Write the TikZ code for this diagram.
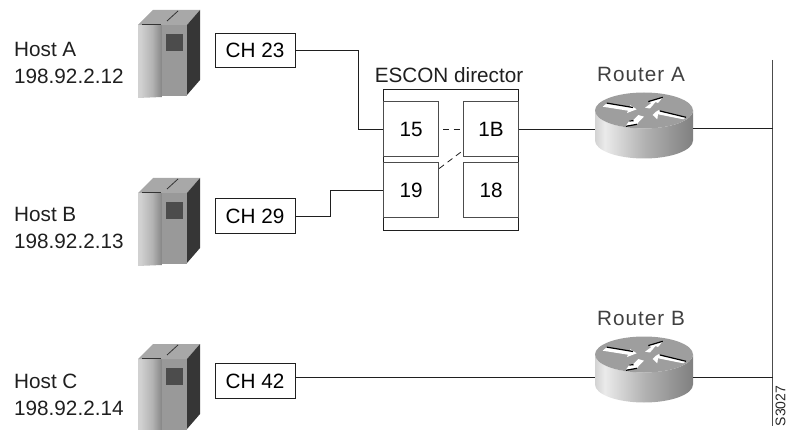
\documentclass[tikz,border=0pt]{standalone}
\usepackage{fontspec}
\setmainfont{Liberation Sans}
\newfontfamily\routerfont[LetterSpace=5]{Liberation Sans}
\pgfdeclarehorizontalshading{routerbody}{100bp}{color(0bp)=(black!50);color(10bp)=(black!45);color(30bp)=(black!8);color(50bp)=(black!30);color(75bp)=(black!50);color(92bp)=(black!68);color(100bp)=(black!60)}
\pgfdeclarehorizontalshading{hostbody}{100bp}{color(0bp)=(black!18);color(30bp)=(black!18);color(55bp)=(black!30);color(80bp)=(black!52);color(100bp)=(black!62)}
\definecolor{toptone}{gray}{0.62}
\definecolor{paneltone}{gray}{0.60}
\definecolor{hosttop}{gray}{0.66}
\definecolor{hostside}{gray}{0.21}
\definecolor{hostwin}{gray}{0.30}
\definecolor{linetone}{gray}{0.12}
\tikzset{
  labeltext/.style={font=\fontsize{20.7}{26.5}\selectfont,text=black!88,inner sep=0pt},
  routertext/.style={font=\routerfont\fontsize{20.7}{26.5}\selectfont,text=black!75,inner sep=0pt},
  hostlabel/.style={labeltext,align=left,anchor=west},
  chbox/.style={draw=linetone,line width=1pt,fill=white,minimum width=80pt,minimum height=34.5pt,inner sep=0pt,font=\fontsize{20.7}{25}\selectfont},
  portbox/.style={draw=black!70,line width=1pt,fill=white,minimum width=55.2pt,minimum height=55pt,inner sep=0pt,font=\fontsize{20.7}{25}\selectfont},
  shell/.style={draw=linetone,line width=1pt},
  link/.style={draw=linetone,line width=0.9pt},
  dashlink/.style={draw=linetone,line width=0.8pt,dash pattern=on 6pt off 4.5pt},
  hub/.style={inner sep=0pt,minimum width=98pt,minimum height=30pt},
  hosticon/.pic={
    \shade[shading=hostbody] (138,25) -- (162,25) -- (162,97) -- (138,98) -- cycle;
    \fill[paneltone] (162,25) rectangle (187,96);
    \fill[hosttop] (138,25) -- (153,10) -- (200,10) -- (187,25) -- cycle;
    \fill[hostside] (187,25) -- (200,10) -- (200,80) -- (187,95) -- cycle;
    \fill[hostwin] (166,34) rectangle (183,51);
    \draw[black!80,line width=0.8pt] (142,24) -- (161,24);
    \draw[black!80,line width=0.8pt] (167,21) -- (178,11);
  },
  routericon/.pic={
    \shade[shading=routerbody] (-49,0) arc[start angle=180,end angle=0,x radius=49,y radius=18] -- (49,30) arc[start angle=0,end angle=180,x radius=49,y radius=18] -- cycle;
    \fill[toptone] (0,0) ellipse[x radius=49,y radius=18];
    % arrow 1
    \fill[white] (-41.3,-3.8) -- (-37.3,-7.2) -- (-13,-3.2) -- (-14,-5.5) -- (-7.3,-1.2) -- (-17,2.5) -- (-16,0.2) -- cycle;
    \draw[black,line width=1.2pt] (-37.3,-7.4) -- (-11,-3);
    % arrow 2
    \fill[white] (1,-2.8) -- (7.5,-7.5) -- (4.5,-8.8) -- (18.7,-13) -- (14,-7.5) -- (11.5,-8.5) -- (6,-2) -- cycle;
    \draw[black,line width=1.2pt] (4.3,-8.9) -- (18.7,-13.2);
    % arrow 3
    \fill[white] (-18.3,15.5) -- (-14,9.5) -- (-11,10) -- (-5.7,4.5) -- (0,6.2) -- (-5,11) -- (-7,13.8) -- cycle;
    \draw[black,line width=1.2pt] (-14.7,10.5) -- (-10.5,10.2);
    \draw[black,line width=1.2pt] (-18,15.8) -- (-7,13.8);
    % arrow 4
    \fill[white] (8.7,4.5) -- (12,1.2) -- (15,-0.5) -- (15.5,0.8) -- (42,6.8) -- (39.3,8.8) -- (14,3.8) -- (13.3,8.8) -- cycle;
    \draw[black,line width=1.2pt] (16,0.5) -- (42,6.8);
  }
}
\begin{document}
\begin{tikzpicture}[x=1pt,y=-1pt]
\useasboundingbox (0,0) rectangle (787,430);

% Hosts
\pic at (0,0) {hosticon};
\pic at (0,168) {hosticon};
\begin{scope}
\clip (0,0) rectangle (787,430);
\pic at (0,334) {hosticon};
\end{scope}
\node[hostlabel] (hostA) at (14,63) {Host A\\198.92.2.12};
\node[hostlabel] (hostB) at (14,228) {Host B\\198.92.2.13};
\node[hostlabel] (hostC) at (14,395) {Host C\\198.92.2.14};

% Channel boxes
\node[chbox] (ch23) at (255,50.5) {CH 23};
\node[chbox] (ch29) at (255,216) {CH 29};
\node[chbox] (ch42) at (255,381) {CH 42};

% ESCON director
\node[labeltext] (esconlabel) at (449,75) {ESCON director};
\node[shell,minimum width=135.2pt,minimum height=141pt,inner sep=0pt] (director) at (451.1,160.5) {};
\node[portbox] (p15) at (411.1,129.5) {15};
\node[portbox] (p1B) at (491.1,129.5) {1B};
\node[portbox] (p19) at (411.1,190.5) {19};
\node[portbox] (p18) at (491.1,190.5) {18};

% Routers
\pic at (644,110.5) {routericon};
\pic at (644,354.5) {routericon};
\node[hub] (routerA) at (644,128.5) {};
\node[hub] (routerB) at (644,377.5) {};
\node[routertext] (routerAlabel) at (641,74) {Router A};
\node[routertext] (routerBlabel) at (641,318) {Router B};

% Bus
\coordinate (busTop) at (772.5,60);
\coordinate (busBottom) at (772.5,426);
\coordinate (busA) at (772.5,128.5);
\coordinate (busB) at (772.5,377.5);
\draw[draw=black!70,line width=1.1pt] (busTop) -- (busBottom);

% Connectors
\draw[link] (ch23.east) -- (358,50.5) |- (p15.west);
\draw[link] (ch29.east) -- (330,216) |- (p19.west);
\draw[link] (ch42.east |- routerB.west) -- (routerB.west);
\draw[link] (p1B.east) -- (p1B.east -| routerA.west);
\draw[link] (routerA.east) -- (busA);
\draw[link] (routerB.east) -- (busB);
\draw[dashlink] ([xshift=4pt]p15.east) -- (p1B.west);
\draw[dashlink] ([yshift=-6pt]p19.north east) -- ([yshift=7pt]p1B.south west);

\node[rotate=90,font=\fontsize{14}{17}\selectfont,inner sep=0pt,text=black!85] (figid) at (780.5,406) {S3027};
\end{tikzpicture}
\end{document}
